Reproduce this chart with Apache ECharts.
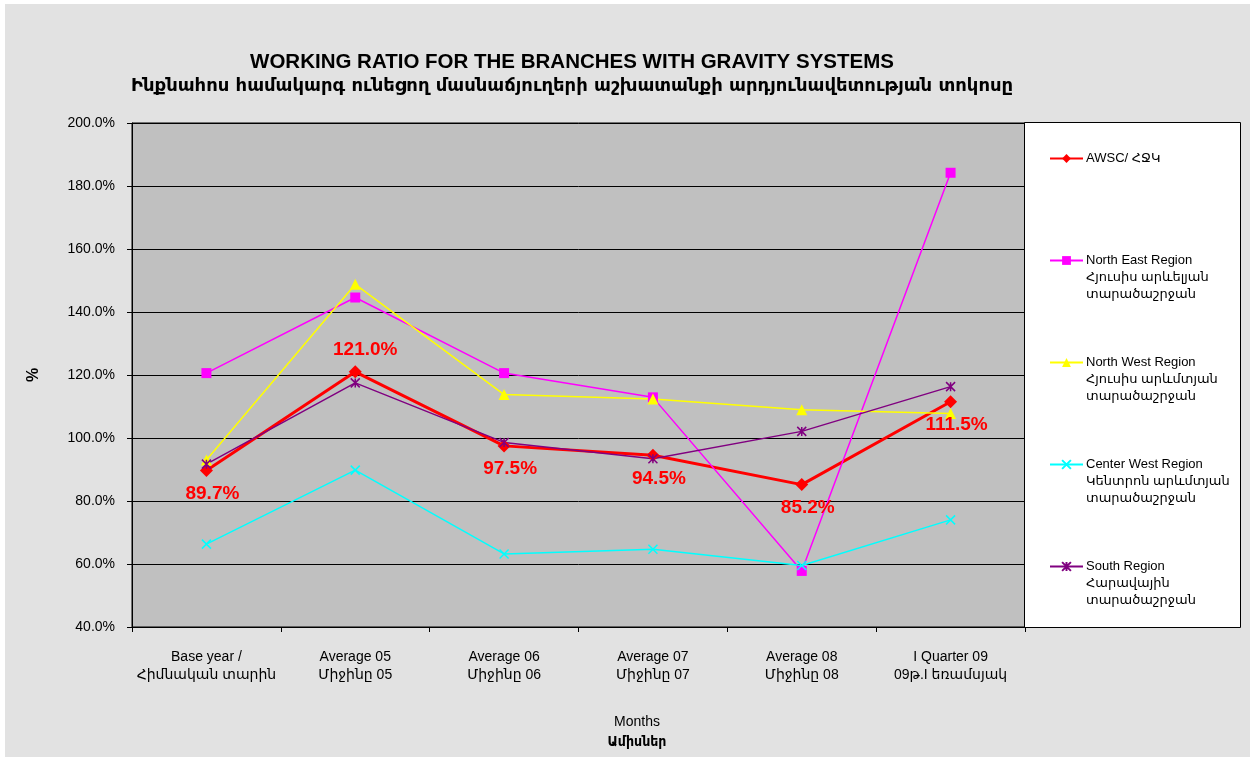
<!DOCTYPE html>
<html>
<head>
<meta charset="utf-8">
<script src="https://cdn.jsdelivr.net/npm/echarts@6/dist/echarts.min.js"></script>
<style>
html,body{margin:0;padding:0;background:#fff;}
#chart{width:1253px;height:760px;}
</style>
</head>
<body>
<div id="chart"></div>
<script>
const categories = [
  'Base year /\nՀիմնական տարին',
  'Average 05\nՄիջինը 05',
  'Average 06\nՄիջինը 06',
  'Average 07\nՄիջինը 07',
  'Average 08\nՄիջինը 08',
  'I Quarter 09\n09թ.I եռամսյակ'
];
const seriesNames = ['AWSC/ ՀՋԿ', 'North East Region', 'North West Region', 'Center West Region', 'South Region'];
const seriesSubNames = [
  '',
  'Հյուսիս արևելյան\nտարածաշրջան',
  'Հյուսիս արևմտյան\nտարածաշրջան',
  'Կենտրոն արևմտյան\nտարածաշրջան',
  'Հարավային\nտարածաշրջան'
];
const awsc      = [89.7, 121.0, 97.5, 94.5, 85.2, 111.5];
const northEast = [120.6, 144.6, 120.6, 112.9, 57.8, 184.2];
const northWest = [93.0, 148.8, 113.8, 112.4, 109.0, 107.8];
const centerWest= [66.3, 89.8, 63.2, 64.7, 59.5, 74.0];
const south     = [91.7, 117.5, 98.6, 93.4, 102.1, 116.3];
const yTicks = {min: 40, max: 200, interval: 20};

const titleText = 'WORKING RATIO FOR THE BRANCHES WITH GRAVITY SYSTEMS';
const subTitleText = 'Ինքնահոս համակարգ ունեցող մասնաճյուղերի աշխատանքի արդյունավետության տոկոսը';
const xNameEn = 'Months';
const xNameHy = 'Ամիսներ';
const yName = '%';

const FONT = 'Arial, "Liberation Sans", "DejaVu Sans", sans-serif';

const chart = echarts.init(document.getElementById('chart'));

const colors = ['#ff0000', '#ff00ff', '#ffff00', '#00ffff', '#800080'];
const symbols = ['diamond', 'rect', 'triangle',
  'path://M0,0L10,10M10,0L0,10',
  'path://M0,0L10,10M10,0L0,10M5,0L5,10'];
const symbolSizes = [13, 10, 11, 9, 9];
const lineWidths = [3, 1.5, 1.5, 1.5, 1.5];
const dataSets = [awsc, northEast, northWest, centerWest, south];

const series = dataSets.map((d, k) => {
  const s = {
    name: seriesNames[k],
    type: 'line',
    data: k === 0 ? d.map((v, i) => i === 1 ? {value: v, label: {position: 'top', distance: 6, offset: [10, 0]}} : v) : d,
    symbol: symbols[k],
    symbolSize: symbolSizes[k],
    showAllSymbol: true,
    lineStyle: {color: colors[k], width: lineWidths[k]},
    itemStyle: {color: colors[k], borderColor: colors[k], borderWidth: (k >= 3 ? 1.5 : 0)},
    emphasis: {disabled: true},
    animation: false
  };
  if (k === 0) {
    s.label = {
      show: true,
      position: 'bottom',
      distance: 7,
      offset: [6, 0],
      color: '#ff0000',
      fontFamily: FONT,
      fontWeight: 'bold',
      fontSize: 19,
      formatter: p => p.value.toFixed(1) + '%'
    };
  }
  return s;
});

const option = {
  backgroundColor: '#ffffff',
  animation: false,
  title: {
    text: titleText,
    subtext: subTitleText,
    left: 567,
    top: 46,
    textAlign: 'center',
    itemGap: 3,
    textStyle: {fontFamily: '"Liberation Sans Narrow", "Liberation Sans", Arial, sans-serif', fontWeight: 'bold', fontSize: 20.5, color: '#000', lineHeight: 22},
    subtextStyle: {fontFamily: '"DejaVu Sans", sans-serif', fontWeight: 'bold', fontSize: 18, color: '#000', lineHeight: 20}
  },
  graphic: [
    {type: 'rect', shape: {x: 5, y: 4, width: 1245, height: 753}, style: {fill: '#e2e2e2'}, z: -10, silent: true},
    {type: 'rect', shape: {x: 1024.5, y: 122.5, width: 216, height: 505}, style: {fill: '#ffffff', stroke: '#000', lineWidth: 1}, z: 1, silent: true},
    {type: 'text', x: 637, y: 715, style: {text: xNameEn, fontFamily: FONT, fontSize: 14, fill: '#000', textAlign: 'center'}, z: 5},
    {type: 'text', x: 637, y: 735, style: {text: xNameHy, fontFamily: '"DejaVu Sans Condensed", "DejaVu Sans", sans-serif', fontWeight: 'bold', fontSize: 14, fill: '#000', textAlign: 'center'}, z: 5}
  ],
  legend: {
    orient: 'vertical',
    left: 1044,
    top: 111,
    itemGap: 17,
    itemWidth: 33,
    itemHeight: 11,
    selectedMode: false,
    data: seriesNames,
    formatter: name => {
      const i = seriesNames.indexOf(name);
      const sub = seriesSubNames[i];
      return '\n\n' + name + '\n' + (sub ? sub : '\n');
    },
    textStyle: {fontFamily: FONT, fontSize: 13, lineHeight: 17, color: '#000', padding: [0, 0, 0, -2]}
  },
  grid: {
    left: 132, top: 123, right: 228, bottom: 133,
    show: true, backgroundColor: '#c0c0c0', borderColor: '#000', borderWidth: 1,
    containLabel: false
  },
  xAxis: {
    type: 'category',
    data: categories,
    boundaryGap: true,
    axisLine: {lineStyle: {color: '#000', width: 1}},
    axisTick: {show: true, length: 5, lineStyle: {color: '#000'}},
    axisLabel: {color: '#000', fontFamily: FONT, fontSize: 14, lineHeight: 18, margin: 21, interval: 0}
  },
  yAxis: {
    type: 'value',
    min: yTicks.min, max: yTicks.max, interval: yTicks.interval,
    name: yName,
    nameLocation: 'middle',
    nameGap: 90,
    nameTextStyle: {fontFamily: FONT, fontWeight: 'bold', fontSize: 16, color: '#000'},
    axisLine: {show: true, lineStyle: {color: '#000', width: 1}},
    axisTick: {show: true, length: 5, lineStyle: {color: '#000'}},
    axisLabel: {color: '#000', fontFamily: FONT, fontSize: 14, margin: 17, formatter: v => v.toFixed(1) + '%'},
    splitLine: {show: true, lineStyle: {color: '#000', width: 1}}
  },
  series: series
};
chart.setOption(option);
</script>
</body>
</html>
